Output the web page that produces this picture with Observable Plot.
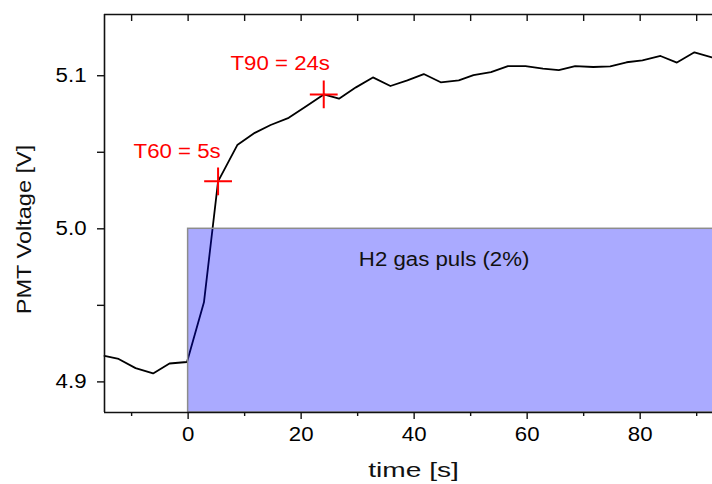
<!DOCTYPE html>
<html>
<head>
<meta charset="utf-8">
<script src="https://cdn.jsdelivr.net/npm/d3@7"></script>
<script src="https://cdn.jsdelivr.net/npm/@observablehq/plot@0.6"></script>
<style>
  html, body { margin: 0; padding: 0; background: #fff; }
  #chart { width: 712px; height: 484px; }
</style>
</head>
<body>
<div id="chart"></div>
<script>
// ---- data ----
const times = [-14.8, -12.3, -9.3, -6.2, -3.3, -0.2, 2.8, 5.3, 8.7, 11.8, 14.6, 17.8, 20.9, 24.0,
  26.7, 29.7, 32.7, 35.8, 38.8, 41.7, 44.7, 47.9, 50.5, 53.6, 56.6, 59.7, 62.8, 65.6, 68.5,
  71.7, 74.7, 77.6, 80.4, 83.6, 86.5, 89.6, 92.7];
const volts = [4.917, 4.915, 4.909, 4.9055, 4.912, 4.913, 4.952, 5.031, 5.0547, 5.0627, 5.0678,
  5.0725, 5.080, 5.0878, 5.085, 5.0924, 5.0989, 5.0933, 5.097, 5.1011, 5.0957, 5.097, 5.1004,
  5.1024, 5.1063, 5.1063, 5.1046, 5.1037, 5.1063, 5.1057, 5.1061, 5.1088, 5.1101, 5.1129,
  5.1086, 5.1153, 5.112];

const markerTimes = [5.3, 24.0];
const markerVolts = [5.031, 5.0878];
const markerLabels = ["T60 = 5s", "T90 = 24s"];
const markerLabelTimes = [-1.95, 16.3];
const markerLabelVolts = [5.0506, 5.1077];

const pulseStart = 0;
const pulseLevel = 5.0;
const pulseLabels = ["H2 gas puls (2%)"];
const pulseLabelTimes = [45.3];
const pulseLabelVolts = [4.980];

const xDomain = [-14.8, 92.8];
const yDomain = [4.88, 5.14];
const xMajorTicks = [0, 20, 40, 60, 80];
const xMinorTicks = [-10, 10, 30, 50, 70, 90];
const xTopTicks = [-10, 0, 10, 20, 30, 40, 50, 60, 70, 80, 90];
const yTicks = [4.9, 4.95, 5.0, 5.05, 5.1];
const yLabelledTicks = [4.9, 5.0, 5.1];
const xTitle = "time [s]";
const yTitle = "PMT Voltage [V]";

// ---- layout ----
const W = 712, H = 484;
const mL = 104, mR = 0, mT = 14, mB = 72;
const plotW = W - mL - mR, plotH = H - mT - mB;
const font = "'Liberation Sans', Arial, Helvetica, sans-serif";
const axisColor = "#111";

const fmt = d3.format(".1f");

const chart = Plot.plot({
  width: W,
  height: H,
  marginLeft: mL,
  marginRight: mR,
  marginTop: mT,
  marginBottom: mB,
  style: { fontFamily: font, fontSize: "19.5px", background: "white", color: "#000" },
  x: { domain: xDomain, ticks: xMajorTicks, tickSize: 0, tickPadding: 15, label: null },
  y: {
    domain: yDomain, ticks: yTicks, tickSize: 0, tickPadding: 18, label: null,
    tickFormat: d => yLabelledTicks.includes(d) ? fmt(d) : ""
  },
  marks: [
    Plot.line(times, { x: times, y: volts, stroke: "black", strokeWidth: 1.8 }),
    Plot.rect([0], {
      x1: pulseStart, x2: xDomain[1] + 3, y1: yDomain[0], y2: pulseLevel,
      fill: "blue", fillOpacity: 0.333, stroke: "#8c8c8c", strokeWidth: 1.5
    }),
    Plot.dot(markerTimes, { x: markerTimes, y: markerVolts, symbol: "plus", r: 9, stroke: "red", strokeWidth: 2 }),
    Plot.text(markerLabels, { x: markerLabelTimes, y: markerLabelVolts, text: d => d, fill: "red", fontSize: 19.5 }),
    Plot.text(pulseLabels, { x: pulseLabelTimes, y: pulseLabelVolts, text: d => d, fill: "#111", fontSize: 19.5 }),
    // frame lines
    Plot.ruleX([xDomain[0]], { stroke: axisColor, strokeWidth: 1.6 }),
    Plot.ruleY(yDomain, { stroke: axisColor, strokeWidth: 1.6 }),
    // ticks
    Plot.tickX(xMajorTicks, { x: d => d, insetTop: plotH, insetBottom: -7, stroke: axisColor, strokeWidth: 1.4 }),
    Plot.tickX(xMinorTicks, { x: d => d, insetTop: plotH, insetBottom: -4, stroke: axisColor, strokeWidth: 1.4 }),
    Plot.tickX(xTopTicks, { x: d => d, insetTop: 0, insetBottom: plotH - 7, stroke: axisColor, strokeWidth: 1.4 }),
    Plot.tickY(yTicks, { y: d => d, insetLeft: -7, insetRight: plotW, stroke: axisColor, strokeWidth: 1.4 }),
    // axis titles
    Plot.text([xTitle], { frameAnchor: "bottom", textAnchor: "middle", lineAnchor: "middle", text: d => d, dx: 5, dy: 58, fontSize: 21, fill: "#111" }),
    Plot.text([yTitle], { frameAnchor: "left", textAnchor: "middle", lineAnchor: "middle", text: d => d, rotate: -90, dx: -80, dy: 16, fontSize: 21, fill: "#111" })
  ]
});

document.getElementById("chart").append(chart);

// widen glyphs slightly to match the reference's wider typeface
for (const t of chart.querySelectorAll("text")) {
  const s = t.textContent;
  if (!s) continue;
  const k = s === xTitle ? 1.34 : s === yTitle ? 1.12 : 1.14;
  const len = t.getComputedTextLength();
  if (len > 0) {
    t.setAttribute("textLength", (len * k).toFixed(2));
    t.setAttribute("lengthAdjust", "spacingAndGlyphs");
  }
}
</script>
</body>
</html>
